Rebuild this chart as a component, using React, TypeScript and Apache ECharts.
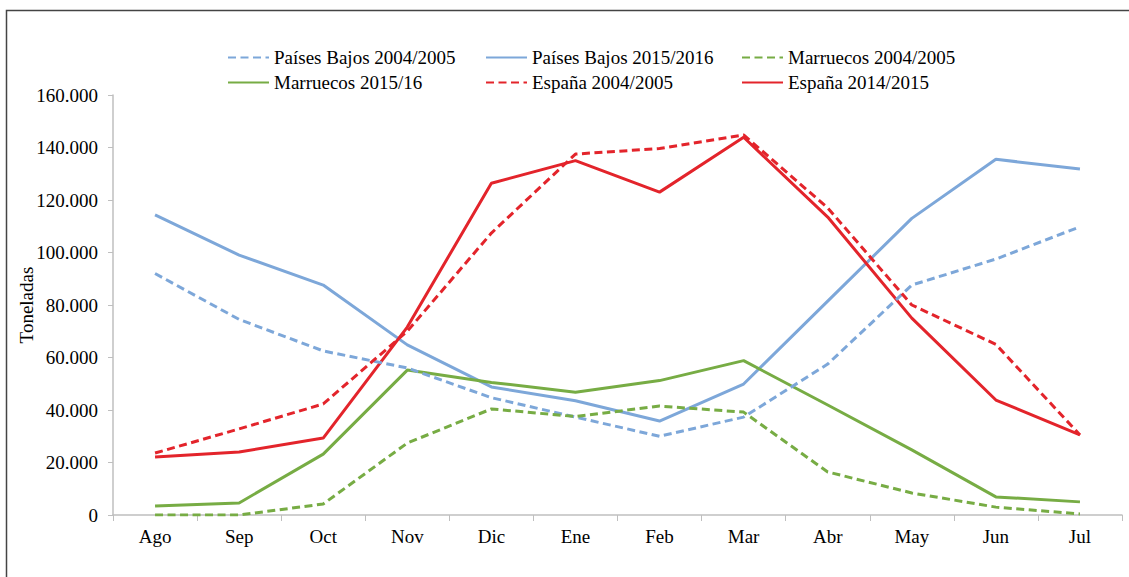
import React, { useEffect, useRef } from "react";
import * as echarts from "echarts";

const months = ["Ago", "Sep", "Oct", "Nov", "Dic", "Ene", "Feb", "Mar", "Abr", "May", "Jun", "Jul"];

const pb0405 = [92000, 74500, 62500, 56000, 44700, 37300, 30000, 37300, 57500, 87600, 97500, 109800];
const pb1516 = [114300, 99000, 87600, 64800, 48800, 43500, 35800, 49900, 81500, 113000, 135500, 131800];
const ma0405 = [0, 0, 4200, 27400, 40400, 37500, 41500, 39200, 16400, 8400, 3000, 400];
const ma1516 = [3400, 4600, 23200, 55200, 50500, 46800, 51200, 58800, 41900, 24800, 6900, 5000];
const es0405 = [23600, 32800, 42300, 70000, 107400, 137500, 139600, 144800, 117000, 80000, 65000, 30500];
const es1415 = [22100, 24000, 29300, 71600, 126400, 135000, 123000, 143900, 113500, 75000, 43800, 30500];

const BLUE = "#7DA7D9";
const GREEN = "#77AC44";
const RED = "#E3242B";
const FONT = "'Liberation Serif', 'Times New Roman', serif";

function fmt(v: number) {
  const s = Math.round(v).toString();
  if (v === 0) return "0";
  return s.replace(/\B(?=(\d{3})+(?!\d))/g, ".");
}

export default function App() {
  const ref = useRef<HTMLDivElement>(null);
  useEffect(() => {
    if (!ref.current) return;
    const chart = echarts.init(ref.current, null, { renderer: "svg" });
    const mk = (name: string, data: number[], color: string, dashed: boolean) => ({
      name,
      type: "line",
      data,
      symbol: "none",
      lineStyle: { color, width: 3, type: dashed ? [8, 4.5] : "solid" },
      itemStyle: { color },
      z: dashed ? 3 : 2,
    });
    const legendBase = {
      orient: "vertical",
      padding: 0,
      itemWidth: 41,
      itemHeight: 14,
      itemGap: 6,
      itemStyle: { opacity: 0 },
      textStyle: { fontFamily: FONT, fontSize: 19, color: "#000" },
      selectedMode: false,
    };
    chart.setOption({
      animation: false,
      backgroundColor: "#fff",
      textStyle: { fontFamily: FONT },
      graphic: [
        {
          type: "rect",
          shape: { x: 6.5, y: 10.5, width: 1200, height: 700 },
          style: { fill: "none", stroke: "#444", lineWidth: 1.5 },
          silent: true,
        },
      ],
      legend: [
        { ...legendBase, left: 227, top: 48, data: ["Países Bajos 2004/2005", "Marruecos 2015/16"] },
        { ...legendBase, left: 485, top: 48, data: ["Países Bajos 2015/2016", "España 2004/2005"] },
        { ...legendBase, left: 741, top: 48, data: ["Marruecos 2004/2005", "España 2014/2015"] },
      ],
      grid: { left: 113, right: 7, top: 95, bottom: 62, containLabel: false },
      xAxis: {
        type: "category",
        data: months,
        boundaryGap: true,
        axisLine: { lineStyle: { color: "#BFBFBF", width: 1.5 } },
        axisTick: { show: true, length: 6, lineStyle: { color: "#BFBFBF" } },
        axisLabel: { fontFamily: FONT, fontSize: 19, color: "#000", margin: 12 },
      },
      yAxis: {
        type: "value",
        min: 0,
        max: 160000,
        interval: 20000,
        name: "Toneladas",
        nameLocation: "middle",
        nameGap: 77,
        nameMoveOverlap: false,
        nameRotate: 90,
        nameTextStyle: { fontFamily: FONT, fontSize: 19, color: "#000" },
        axisLine: { show: true, lineStyle: { color: "#BFBFBF", width: 1.5 } },
        axisTick: { show: true, length: 5, lineStyle: { color: "#BFBFBF" } },
        splitLine: { show: false },
        axisLabel: { fontFamily: FONT, fontSize: 19, color: "#000", margin: 15, formatter: (v: number) => fmt(v) },
      },
      series: [
        mk("Países Bajos 2004/2005", pb0405, BLUE, true),
        mk("Países Bajos 2015/2016", pb1516, BLUE, false),
        mk("Marruecos 2004/2005", ma0405, GREEN, true),
        mk("Marruecos 2015/16", ma1516, GREEN, false),
        mk("España 2004/2005", es0405, RED, true),
        mk("España 2014/2015", es1415, RED, false),
      ],
    });
    return () => chart.dispose();
  }, []);
  return (
    <div
      ref={ref}
      style={{ position: "fixed", left: 0, top: 0, width: 1129, height: 577, background: "#fff" }}
    />
  );
}
